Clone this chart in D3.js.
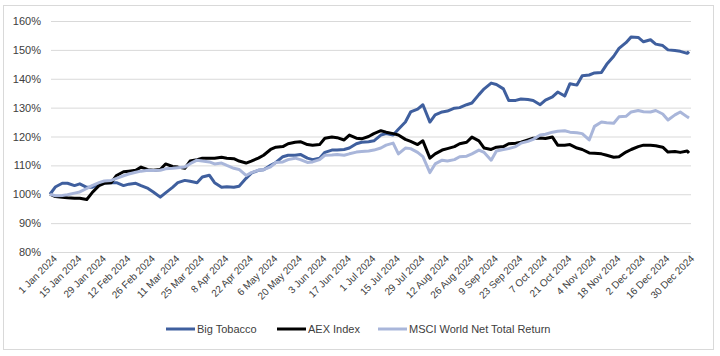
<!DOCTYPE html>
<html><head><meta charset="utf-8">
<script src="https://cdn.jsdelivr.net/npm/d3@7/dist/d3.min.js"></script>
<style>body{margin:0;background:#fff;}svg{display:block;font-family:"Liberation Sans",Arial,sans-serif;}</style>
</head><body><svg id="c" width="720" height="356"></svg>
<script>
const dates = ["2024-01-01","2024-01-04","2024-01-08","2024-01-11","2024-01-15","2024-01-18","2024-01-22","2024-01-25","2024-01-29","2024-02-01",
"2024-02-05","2024-02-08","2024-02-12","2024-02-15","2024-02-19","2024-02-22","2024-02-26","2024-02-29","2024-03-04","2024-03-07",
"2024-03-11","2024-03-14","2024-03-18","2024-03-21","2024-03-25","2024-03-28","2024-04-01","2024-04-04","2024-04-08","2024-04-11",
"2024-04-15","2024-04-18","2024-04-22","2024-04-25","2024-04-29","2024-05-02","2024-05-06","2024-05-09","2024-05-13","2024-05-16",
"2024-05-20","2024-05-23","2024-05-27","2024-05-30","2024-06-03","2024-06-06","2024-06-10","2024-06-13","2024-06-17","2024-06-20",
"2024-06-24","2024-06-27","2024-07-01","2024-07-04","2024-07-08","2024-07-11","2024-07-15","2024-07-18","2024-07-22","2024-07-25",
"2024-07-29","2024-08-01","2024-08-05","2024-08-08","2024-08-12","2024-08-15","2024-08-19","2024-08-22","2024-08-26","2024-08-29",
"2024-09-02","2024-09-05","2024-09-09","2024-09-12","2024-09-16","2024-09-19","2024-09-23","2024-09-26","2024-09-30","2024-10-03",
"2024-10-07","2024-10-10","2024-10-14","2024-10-17","2024-10-21","2024-10-24","2024-10-28","2024-10-31","2024-11-04","2024-11-07",
"2024-11-11","2024-11-14","2024-11-18","2024-11-21","2024-11-25","2024-11-28","2024-12-02","2024-12-05","2024-12-09","2024-12-12",
"2024-12-16","2024-12-19","2024-12-23","2024-12-26","2024-12-30","2024-12-31"];

const bigTobacco = [100,102.5,103.8,103.8,103,103.6,102.4,102.4,103.5,104,
104,104,103,103.5,103.8,103,102,100.8,99,100.5,
102.4,104,104.8,104.5,104,106,106.6,104,102.4,102.6,
102.4,102.8,105.5,107.3,108.3,108.5,110,111,113,113.5,
113.5,113.8,112.5,112,112.5,114.5,115.3,115.3,115.5,116,
117.5,118,118.2,118.5,120.5,121,120.5,122.5,125,128.5,
129.5,131,125,127.5,128.5,128.8,129.8,130,131,131.6,
134.5,136.5,138.5,138,136.5,132.5,132.5,133,132.8,132.5,
131,132.6,133.7,135.4,134,138.3,137.8,141,141.3,142,
142.2,145,147.8,150.5,152.5,154.5,154.3,152.8,153.5,152,
151.5,150,149.8,149.5,148.8,149.4];

const aexIndex = [100,99.2,99,98.8,98.6,98.6,98.2,100.5,103,103.8,
104,106.5,107.8,108,108.3,109.4,108.5,108.3,108.6,110.5,
109.6,109.4,109,111.5,112,112.5,112.5,112.5,112.8,112.5,
112.3,111.5,110.8,111.5,112.5,113.5,115.5,116.3,116.5,117.5,
118,118.2,117.2,117,117.2,119.4,119.8,119.6,118.8,120.5,
119.4,119.2,120,121,122,121.5,121,120.5,119,118.3,
117.2,118.5,112.5,114,115.3,115.8,116.5,117.5,118,119.8,
118.5,116,115.5,116.3,116.5,117.5,117.7,118,118.8,119.4,
119.5,119.3,119.8,117,117,117.2,116,115.5,114.3,114.2,
114,113.5,112.8,113,114.6,115.5,116.5,117,117,116.8,
116.3,114.6,114.8,114.5,115,114.3];

const msciWorld = [100,99.5,99.6,99.8,100.4,100.8,102,103,104,104.6,
104.8,105.5,106.4,107,107.6,108,108.3,108.2,108.3,108.8,
109,109.2,109.4,110.6,111.8,111.5,111.2,110.5,110.8,110,
109,108.6,106.5,107.5,108.3,108.5,109.5,111,111.2,112,
112.5,112,111,111.2,112,113.5,113.6,113.8,113.5,114,
114.6,114.8,115,115.3,116,117,117.7,114,116,115.8,
114.5,113,107.5,110.5,111.8,111.5,112,113,113.2,114,
115.3,114.5,111.8,115,115.5,115.8,116.5,117.7,118.3,119,
120.5,120.8,121.5,121.8,122,121.5,121.3,121,118.8,123.5,
125,124.8,124.6,126.8,127,128.5,129,128.6,128.5,129,
127.8,125.7,127.5,128.5,126.8,126.4];

const seriesNames = ["Big Tobacco","AEX Index","MSCI World Net Total Return"];
const seriesColors = ["#3F5F9E","#000000","#A9B6DA"];
const yTicks = [80,90,100,110,120,130,140,150,160];
const xTickDates = ["2024-01-01","2024-01-15","2024-01-29","2024-02-12","2024-02-26","2024-03-11","2024-03-25","2024-04-08","2024-04-22",
"2024-05-06","2024-05-20","2024-06-03","2024-06-17","2024-07-01","2024-07-15","2024-07-29","2024-08-12","2024-08-26","2024-09-09",
"2024-09-23","2024-10-07","2024-10-21","2024-11-04","2024-11-18","2024-12-02","2024-12-16","2024-12-30"];

const parse = d3.timeParse("%Y-%m-%d");
const fmt = d3.timeFormat("%-d %b %Y");
const svg = d3.select("#c");

svg.append("rect").attr("x",3.5).attr("y",5.5).attr("width",710).attr("height",344)
  .attr("fill","#fff").attr("stroke","#D9D9D9").attr("stroke-width",1);

const x = d3.scaleTime().domain([parse("2024-01-01"), parse("2024-12-31")]).range([50, 689]);
const y = d3.scaleLinear().domain([80,160]).range([252, 21]);

// gridlines + y labels
const yAxis = d3.axisLeft(y).tickValues(yTicks).tickFormat(d => d + "%").tickSize(-640).tickPadding(10);
const gy = svg.append("g").attr("transform","translate(51,0)").call(yAxis);
gy.select(".domain").remove();
gy.selectAll(".tick line").attr("stroke","#D9D9D9").attr("stroke-width",1);
gy.selectAll(".tick text").attr("fill","#404040").attr("font-size","11px");

// x labels
const xAxis = d3.axisBottom(x).tickValues(xTickDates.map(parse)).tickFormat(fmt).tickSize(0);
const gx = svg.append("g").attr("transform","translate(0,255)").call(xAxis);
gx.select(".domain").remove();
gx.selectAll(".tick text").attr("fill","#404040").attr("font-size","10px")
  .attr("text-anchor","end").attr("dx","2").attr("dy","8").attr("y",0)
  .attr("transform","rotate(-45)");

const data = [bigTobacco, aexIndex, msciWorld];
const line = d3.line().x((d,i) => x(parse(dates[i]))).y(d => y(d)).curve(d3.curveLinear);
data.forEach((vals,k) => {
  svg.append("path").datum(vals).attr("d", line).attr("fill","none")
    .attr("stroke", seriesColors[k]).attr("stroke-width", 3).attr("stroke-linejoin","round");
});

// legend
const legX = [166, 277, 378];
seriesNames.forEach((n,k) => {
  const g = svg.append("g").attr("transform", `translate(${legX[k]},329)`);
  g.append("line").attr("x1",0).attr("x2",29).attr("y1",0).attr("y2",0)
    .attr("stroke", seriesColors[k]).attr("stroke-width",3);
  g.append("text").attr("x",31).attr("y",4).attr("font-size","11px").attr("fill","#404040").text(n);
});
</script></body></html>
